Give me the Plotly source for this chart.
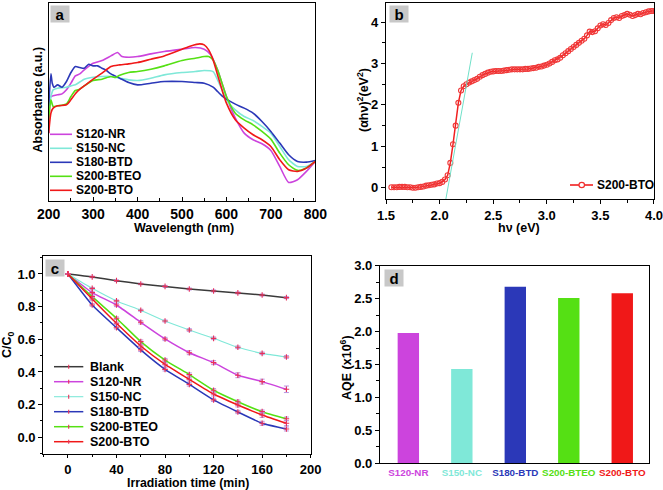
import plotly.graph_objects as go

# ---------------- data ----------------
# Panel a: UV-vis absorbance (a.u.)
wl_nr = [200,205,210,220,230,240,250,260,270,280,300,320,340,355,365,380,400,430,460,500,530,550,565,580,590,600,610,620,640,660,680,700,720,740,760,780,800]
abs_nr = [2.03,3.13,3.15,3.18,3.21,3.33,3.53,3.75,3.81,3.93,4.13,4.21,4.35,4.45,4.33,4.31,4.33,4.41,4.48,4.55,4.60,4.55,4.38,3.93,3.53,3.13,2.78,2.48,2.03,1.83,1.71,1.51,1.03,0.55,0.63,0.88,1.18]
wl_nc = [200,205,210,220,240,250,260,280,300,320,340,360,380,400,430,460,500,530,550,570,580,590,600,620,640,660,680,700,720,740,760,780,800]
abs_nc = [2.73,3.13,3.33,3.38,3.41,3.45,3.48,3.65,3.71,3.73,3.73,3.68,3.63,3.61,3.68,3.78,3.85,3.88,3.91,3.88,3.63,3.33,3.03,2.73,2.53,2.41,2.23,2.03,1.63,1.23,1.03,1.03,1.18]
wl_btd = [200,205,208,212,220,230,240,250,260,270,280,290,300,310,320,330,340,360,380,400,430,460,500,530,550,570,580,590,600,620,640,660,680,700,720,740,760,780,800]
abs_btd = [2.83,3.81,3.53,3.41,3.48,3.41,3.58,3.85,4.03,4.00,3.98,4.10,4.05,4.05,3.98,3.91,3.81,3.68,3.55,3.48,3.53,3.58,3.58,3.55,3.53,3.41,3.28,3.15,3.05,2.90,2.78,2.63,2.38,2.08,1.73,1.38,1.18,1.16,1.21]
wl_bteo = [200,205,210,220,240,250,260,270,280,300,320,340,350,360,380,400,430,460,500,530,550,560,570,580,590,600,620,640,660,680,700,720,740,760,780,800]
abs_bteo = [2.43,3.03,2.83,2.85,2.91,3.13,3.31,3.35,3.45,3.61,3.65,3.73,3.70,3.77,3.85,3.88,3.95,4.05,4.21,4.28,4.33,4.33,4.23,3.93,3.53,3.13,2.63,2.43,2.28,2.08,1.85,1.43,1.08,0.91,0.98,1.18]
wl_bto = [200,205,210,220,240,250,260,270,280,300,320,340,360,380,400,430,460,500,520,540,550,560,570,580,590,600,620,640,660,680,700,720,740,760,780,800]
abs_bto = [2.03,2.63,2.78,2.85,2.88,3.03,3.21,3.35,3.45,3.65,3.83,4.03,4.08,4.11,4.15,4.25,4.35,4.55,4.65,4.71,4.68,4.53,4.23,3.78,3.33,2.93,2.43,2.18,1.98,1.83,1.63,1.23,0.93,0.88,0.98,1.18]

# Panel b: Tauc plot of S200-BTO
hv = [1.550,1.575,1.600,1.625,1.650,1.675,1.700,1.725,1.750,1.775,1.800,1.825,1.850,1.875,1.900,1.925,1.950,1.975,
      2.000,2.025,2.050,2.075,2.100,2.125,2.150,2.175,2.200,2.225,2.250,2.275,2.300,2.325,2.350,2.375,2.400,2.425,
      2.450,2.475,2.500,2.525,2.550,2.575,2.600,2.625,2.650,2.675,2.700,2.725,2.750,2.775,2.800,2.825,2.850,2.875,
      2.900,2.925,2.950,2.975,3.000,3.025,3.050,3.075,3.100,3.125,3.150,3.175,3.200,3.225,3.250,3.275,3.300,3.325,
      3.350,3.375,3.400,3.425,3.450,3.475,3.500,3.525,3.550,3.575,3.600,3.625,3.650,3.675,3.700,3.725,3.750,3.775,
      3.800,3.825,3.850,3.875,3.900,3.925,3.950,3.975,4.000]
ahv2 = [0.01,0.01,0.01,0.02,0.02,0.02,0.01,0.01,0.00,0.00,0.01,0.02,0.03,0.05,0.06,0.07,0.08,0.10,
        0.11,0.14,0.20,0.30,0.60,1.05,1.50,2.05,2.35,2.45,2.50,2.54,2.57,2.60,2.63,2.68,2.72,2.75,
        2.78,2.80,2.81,2.82,2.82,2.82,2.83,2.84,2.85,2.86,2.86,2.86,2.86,2.86,2.87,2.87,2.88,2.89,
        2.90,2.92,2.93,2.95,2.97,3.00,3.04,3.08,3.10,3.14,3.20,3.25,3.30,3.35,3.40,3.45,3.50,3.55,
        3.60,3.68,3.77,3.76,3.78,3.85,3.92,3.95,3.93,3.98,4.05,4.10,4.12,4.10,4.15,4.17,4.20,4.18,
        4.15,4.17,4.20,4.19,4.22,4.24,4.26,4.27,4.27]
fit_x = [2.058, 2.305]
fit_y = [-0.28, 3.26]

# Panel c: photodegradation C/C0
time_min = [0,20,40,60,80,100,120,140,160,180]
c_blank = [1.0,0.982,0.959,0.939,0.924,0.908,0.896,0.884,0.871,0.855]
c_nr = [1.0,0.886,0.810,0.704,0.602,0.518,0.457,0.380,0.341,0.294]
c_nc = [1.0,0.912,0.835,0.778,0.712,0.657,0.606,0.551,0.514,0.492]
c_btd = [1.0,0.810,0.671,0.535,0.416,0.324,0.229,0.155,0.086,0.051]
c_bteo = [1.0,0.861,0.729,0.586,0.473,0.384,0.288,0.218,0.157,0.114]
c_bto = [1.0,0.847,0.698,0.559,0.447,0.355,0.265,0.198,0.137,0.086]
err_blank = [0,0.005,0.005,0.005,0.006,0.006,0.006,0.006,0.006,0.006]
err_nr = [0,0.008,0.01,0.01,0.01,0.012,0.012,0.015,0.015,0.02]
err_nc = [0,0.006,0.006,0.006,0.006,0.008,0.008,0.008,0.008,0.008]
err_btd = [0,0.008,0.008,0.01,0.01,0.01,0.01,0.01,0.012,0.012]
err_bteo = [0,0.008,0.008,0.01,0.01,0.01,0.01,0.01,0.01,0.01]
err_bto = [0,0.008,0.008,0.01,0.01,0.01,0.012,0.012,0.015,0.015]

# Panel d: AQE
samples = ["S120-NR","S150-NC","S180-BTD","S200-BTEO","S200-BTO"]
aqe = [1.98,1.43,2.68,2.51,2.58]

colors = {"S120-NR":"#cc44dd","S150-NC":"#7fe8d8","S180-BTD":"#2b38b8","S200-BTEO":"#55e014","S200-BTO":"#f01818","Blank":"#3a3a3a"}
FONT = "Liberation Sans"

fig = go.Figure()

# ---- panel a
for name, x, y in [("S120-NR",wl_nr,abs_nr),("S150-NC",wl_nc,abs_nc),("S180-BTD",wl_btd,abs_btd),
                   ("S200-BTEO",wl_bteo,abs_bteo),("S200-BTO",wl_bto,abs_bto)]:
    fig.add_trace(go.Scatter(x=x, y=y, mode="lines", line=dict(color=colors[name], width=1.6, shape="spline", smoothing=0.6),
                             xaxis="x", yaxis="y", showlegend=False))

# ---- panel b
fig.add_trace(go.Scatter(x=hv, y=ahv2, mode="lines+markers", line=dict(color="#f02020", width=1.5),
                         marker=dict(symbol="circle-open", size=5, color="#f03838", line=dict(width=1.1)),
                         xaxis="x2", yaxis="y2", showlegend=False))
fig.add_trace(go.Scatter(x=fit_x, y=fit_y, mode="lines", line=dict(color="#70e0c8", width=1),
                         xaxis="x2", yaxis="y2", showlegend=False))

# ---- panel c
series_c = [("Blank",c_blank,err_blank),("S120-NR",c_nr,err_nr),("S150-NC",c_nc,err_nc),
            ("S180-BTD",c_btd,err_btd),("S200-BTEO",c_bteo,err_bteo),("S200-BTO",c_bto,err_bto)]
for name, y, e in series_c:
    fig.add_trace(go.Scatter(x=time_min, y=y, mode="lines+markers",
                             line=dict(color=colors[name], width=1.5 if name != "S150-NC" else 1.1, shape="spline", smoothing=0.5),
                             marker=dict(symbol="cross-thin", size=4, color="#e8305a", line=dict(width=1.1, color="#e8305a")),
                             error_y=dict(type="data", array=e, color="#b894e0", thickness=1, width=2.5),
                             xaxis="x3", yaxis="y3", showlegend=False))

# ---- panel d
fig.add_trace(go.Bar(x=list(range(len(samples))), y=aqe, width=0.4,
                     marker=dict(color=[colors[s] for s in samples], line=dict(width=0)),
                     xaxis="x4", yaxis="y4", showlegend=False))

W, H = 663, 490
def px(x): return x / W
def py(y): return 1 - y / H

tickfont = dict(family=FONT, size=13, color="black", weight="bold")
common = dict(showline=True, linecolor="black", linewidth=1.2, mirror=True, showgrid=False, zeroline=False,
              tickfont=tickfont, ticklen=4, tickcolor="black", tickwidth=1, ticklabeloverflow="allow")

fig.update_layout(
    width=W, height=H, margin=dict(l=0, r=0, t=0, b=0, autoexpand=False),
    paper_bgcolor="white", plot_bgcolor="white",
    font=dict(family=FONT, color="black"),
    xaxis=dict(common, domain=[px(48.7), px(315.3)], range=[200, 800.01], dtick=100, ticks="inside",
               minor=dict(ticks="inside", dtick=50, ticklen=2.5, tickcolor="black"), anchor="y", tickfont=dict(tickfont, size=14)),
    yaxis=dict(common, domain=[py(200.7), py(3.3)], range=[0, 5.93], showticklabels=False, ticks="", anchor="x"),
    xaxis2=dict(common, domain=[px(386), px(654)], range=[1.5, 4.0001], tick0=1.5, dtick=0.5, tickformat=".1f", ticks="outside",
                minor=dict(ticks="outside", dtick=0.25, ticklen=2.5, tickcolor="black"), anchor="y2"),
    yaxis2=dict(common, domain=[py(199.3), py(2.7)], range=[-0.28, 4.47], dtick=1, ticks="outside",
                minor=dict(ticks="outside", dtick=0.5, ticklen=2.5, tickcolor="black"), anchor="x2"),
    xaxis3=dict(common, domain=[px(43.3), px(310.7)], range=[-20.3, 200.01], tick0=0, dtick=40, ticks="outside", ticklen=3,
                minor=dict(ticks="outside", dtick=20, ticklen=2, tickcolor="black"), anchor="y3"),
    yaxis3=dict(common, domain=[py(454.3), py(256)], range=[-0.104, 1.11], tick0=0, dtick=0.2, tickformat=".1f", ticks="outside",
                minor=dict(ticks="outside", dtick=0.1, ticklen=2.5, tickcolor="black"), anchor="x3"),
    xaxis4=dict(common, domain=[px(380), px(649)], range=[-0.53, 4.5], ticks="", tickangle=0,
                tickvals=list(range(len(samples))),
                ticktext=[f'<span style="color:{colors[s]}">{s}</span>' for s in samples],
                tickfont=dict(tickfont, size=9.8), anchor="y4"),
    yaxis4=dict(common, domain=[py(463.3), py(265.7)], range=[0, 3.0], dtick=0.5, tickformat=".1f", ticks="outside",
                minor=dict(ticks="outside", dtick=0.25, ticklen=2.5, tickcolor="black"), anchor="x4"),
)

ann = []
shapes = []
def text(x, y, s, size=12.5, angle=0, xanchor="center", color="black"):
    ann.append(dict(x=px(x), y=py(y), xref="paper", yref="paper", text=s, showarrow=False, textangle=angle,
                    xanchor=xanchor, yanchor="middle", font=dict(family=FONT, size=size, color=color, weight="bold")))

# axis titles
text(183.7, 227.5, "Wavelength (nm)", 12.5)
text(37.5, 100, "Absorbance (a.u.)", 12.5, angle=-90)
text(519, 228, "hν (eV)", 12.5)
text(363, 100, "(αhν)<sup>2</sup>(eV<sup>2</sup>)", 12.5, angle=-90)
text(188, 483, "Irradiation time (min)", 12.3)
text(8, 345, "C/C<sub>0</sub>", 12.5, angle=-90)
text(346, 368, "AQE (x10<sup>6</sup>)", 12.5, angle=-90)

# panel letters
for lab, cx, cy in [("a", 60.3, 14.2), ("b", 398.5, 14.2), ("c", 55, 268), ("d", 394, 278)]:
    ann.append(dict(x=px(cx), y=py(cy), xref="paper", yref="paper", text=f"<b>{lab}</b>", showarrow=False,
                    xanchor="center", yanchor="middle",
                    bgcolor="#c8c8c8", width=16, height=14, font=dict(family=FONT, size=15, color="black")))

# legend panel a
names_a = ["S120-NR","S150-NC","S180-BTD","S200-BTEO","S200-BTO"]
for i, n in enumerate(names_a):
    y = 134.3 + i * 14
    shapes.append(dict(type="line", xref="paper", yref="paper", x0=px(50), x1=px(72), y0=py(y), y1=py(y),
                       line=dict(color=colors[n], width=1.6)))
    text(74, y, n, 12, xanchor="left")

# legend panel b
shapes.append(dict(type="line", xref="paper", yref="paper", x0=px(570), x1=px(593), y0=py(185), y1=py(185),
                   line=dict(color="#f02020", width=1.6)))
shapes.append(dict(type="circle", xref="paper", yref="paper", x0=px(579), x1=px(584.5), y0=py(182.3), y1=py(187.7),
                   line=dict(color="#f03030", width=1.2), fillcolor="white"))
text(595, 185, "S200-BTO", 12, xanchor="left")

# legend panel c
names_c = ["Blank","S120-NR","S150-NC","S180-BTD","S200-BTEO","S200-BTO"]
for i, n in enumerate(names_c):
    y = 366.7 + i * 15
    shapes.append(dict(type="line", xref="paper", yref="paper", x0=px(54), x1=px(83.3), y0=py(y), y1=py(y),
                       line=dict(color=colors[n], width=1.5 if n != "S150-NC" else 1.1)))
    shapes.append(dict(type="line", xref="paper", yref="paper", x0=px(68.7), x1=px(68.7), y0=py(y - 2), y1=py(y + 2),
                       line=dict(color="#e8305a", width=1.1)))
    text(88.3, y, n, 12.5, xanchor="left")

fig.update_layout(annotations=ann, shapes=shapes)
fig.write_html("out.html", config={"displayModeBar": False},
               post_script="document.body.style.margin='0';document.body.style.overflow='hidden';")
